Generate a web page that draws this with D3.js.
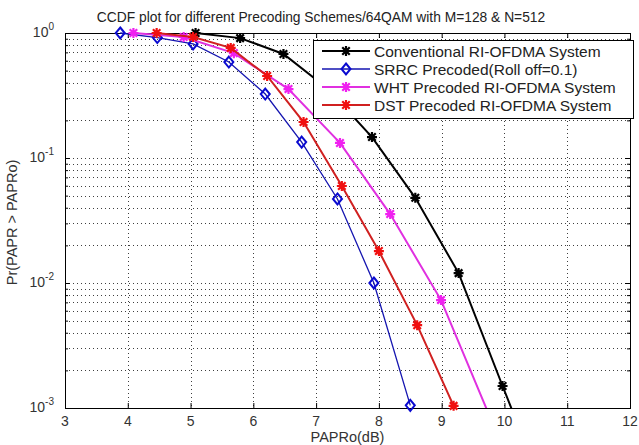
<!DOCTYPE html>
<html><head><meta charset="utf-8">
<script src="https://cdn.jsdelivr.net/npm/d3@7"></script>
<style>
body{margin:0;background:#fff;}
text{font-family:"Liberation Sans",Arial,sans-serif;}
</style></head>
<body><svg id="c" width="639" height="445"></svg>
<script>
// ---- data ----
const titleText = "CCDF plot for different Precoding Schemes/64QAM with M=128 & N=512";
const xLabelText = "PAPRo(dB)";
const yLabelText = "Pr(PAPR > PAPRo)";
const xTicks = [3,4,5,6,7,8,9,10,11,12];
const yTickExp = [0,-1,-2,-3];
const seriesNames = ["Conventional RI-OFDMA System","SRRC Precoded(Roll off=0.1)","WHT Precoded RI-OFDMA System","DST Precoded RI-OFDMA System"];

const convX = [5.08,5.79,6.48,7.18,7.89,8.58,9.27,9.97,10.66];
const convY = [1.0,0.91,0.68,0.36,0.147,0.048,0.012,0.0015,0.0002];
const srrcX = [3.88,4.47,5.04,5.61,6.19,6.77,7.34,7.92,8.50];
const srrcY = [1.0,0.92,0.817,0.586,0.325,0.134,0.047,0.0100,0.00105];
const whtX  = [4.09,4.89,5.69,6.56,7.38,8.18,8.99,9.79];
const whtY  = [1.0,0.93,0.69,0.356,0.132,0.0356,0.0073,0.0008];
const dstX  = [4.46,5.04,5.64,6.22,6.80,7.41,8.00,8.61,9.19];
const dstY  = [1.0,0.93,0.76,0.453,0.194,0.0597,0.018,0.0046,0.00104];

const series = [
  {name:seriesNames[0], xs:convX, ys:convY, color:"#000000", mcolor:"#000000", width:2, marker:"star"},
  {name:seriesNames[1], xs:srrcX, ys:srrcY, color:"#1515b0", mcolor:"#0a0ad0", width:1.3, marker:"diamond"},
  {name:seriesNames[2], xs:whtX,  ys:whtY,  color:"#e030e0", mcolor:"#f020f0", width:2, marker:"star"},
  {name:seriesNames[3], xs:dstX,  ys:dstY,  color:"#d02020", mcolor:"#f01010", width:2, marker:"star"}
];

// ---- layout ----
const L=65, R=630, T=33, B=408;
const svg = d3.select("#c");
const x = d3.scaleLinear().domain([3,12]).range([L,R]);
const y = d3.scaleLog().domain([1e-3,1]).range([B,T]);

// grid
const g = svg.append("g");
const minorY = [];
for (let e=-3;e<0;e++) for (let k=1;k<10;k++) minorY.push(k*Math.pow(10,e));
minorY.push(1);
g.selectAll("line.gy").data(minorY.filter(v=>v>1e-3 && v<1)).enter().append("line")
  .attr("x1",L).attr("x2",R).attr("y1",d=>Math.round(y(d))+0.5).attr("y2",d=>Math.round(y(d))+0.5)
  .attr("stroke","#000").attr("stroke-width",1).attr("stroke-dasharray","1,3").attr("opacity",0.75);
g.selectAll("line.gx").data(xTicks.filter(v=>v>3&&v<12)).enter().append("line")
  .attr("y1",T).attr("y2",B).attr("x1",d=>Math.round(x(d))+0.5).attr("x2",d=>Math.round(x(d))+0.5)
  .attr("stroke","#000").attr("stroke-width",1).attr("stroke-dasharray","1,3").attr("opacity",0.75);

// axes with inward ticks
const axB = d3.axisBottom(x).tickValues(xTicks).tickSize(-5).tickFormat("");
const axT = d3.axisTop(x).tickValues(xTicks).tickSize(-5).tickFormat("");
const axLmin = d3.axisLeft(y).tickValues(minorY).tickSize(-3).tickFormat("");
const axRmin = d3.axisRight(y).tickValues(minorY).tickSize(-3).tickFormat("");
const axLmaj = d3.axisLeft(y).tickValues(yTickExp.map(e=>Math.pow(10,e))).tickSize(-5).tickFormat("");
const axRmaj = d3.axisRight(y).tickValues(yTickExp.map(e=>Math.pow(10,e))).tickSize(-5).tickFormat("");
[[axB,`translate(0,${B})`],[axT,`translate(0,${T})`],[axLmin,`translate(${L},0)`],[axRmin,`translate(${R},0)`],[axLmaj,`translate(${L},0)`],[axRmaj,`translate(${R},0)`]].forEach(([a,t])=>{
  const ag = svg.append("g").attr("transform",t).call(a);
  ag.select(".domain").remove();
  ag.selectAll("line").attr("stroke","#000");
});
svg.append("rect").attr("x",L+0.5).attr("y",T+0.5).attr("width",R-L).attr("height",B-T)
  .attr("fill","none").attr("stroke","#000").attr("stroke-width",1);

// tick labels
svg.append("g").selectAll("text").data(xTicks).enter().append("text")
  .attr("x",d=>x(d)).attr("y",B+18).attr("text-anchor","middle")
  .attr("font-size",14).attr("fill","#333").text(d=>d);
const yl = svg.append("g").selectAll("text").data(yTickExp).enter().append("text")
  .attr("x",L-11).attr("y",d=>y(Math.pow(10,d))+4).attr("text-anchor","end").attr("font-size",14).attr("fill","#333");
yl.append("tspan").text("10");
yl.append("tspan").attr("dy",-7).attr("font-size",10).text(d=>d);

// title and labels
svg.append("text").attr("x",321).attr("y",22).attr("text-anchor","middle").attr("font-size",13.8).attr("fill","#222").text(titleText);
svg.append("text").attr("x",(L+R)/2).attr("y",442).attr("text-anchor","middle").attr("font-size",14.5).attr("fill","#333").text(xLabelText);
svg.append("text").attr("transform",`translate(17,${(T+B)/2+2}) rotate(-90)`).attr("text-anchor","middle").attr("font-size",14.5).attr("fill","#333").text(yLabelText);

// clip
svg.append("clipPath").attr("id","clip").append("rect").attr("x",L).attr("y",T-2).attr("width",R-L).attr("height",B-T+2);

function drawMarker(sel, type, color, cx, cy, s){
  if(type==="diamond"){
    sel.append("path").attr("d",`M${cx},${cy-5.5}L${cx+4.5},${cy}L${cx},${cy+5.5}L${cx-4.5},${cy}Z`)
      .attr("fill","none").attr("stroke",color).attr("stroke-width",2);
  } else {
    const r=s||5;
    const d=`M${cx-r},${cy}L${cx+r},${cy}M${cx},${cy-r}L${cx},${cy+r}M${cx-r*0.75},${cy-r*0.75}L${cx+r*0.75},${cy+r*0.75}M${cx-r*0.75},${cy+r*0.75}L${cx+r*0.75},${cy-r*0.75}`;
    sel.append("path").attr("d",d).attr("stroke",color).attr("stroke-width",2.2).attr("fill","none");
    sel.append("circle").attr("cx",cx).attr("cy",cy).attr("r",2.3).attr("fill",color);
  }
}

const line = d3.line().x(d=>x(d[0])).y(d=>y(d[1]));
series.forEach(s=>{
  const pts = s.xs.map((v,i)=>[v,s.ys[i]]);
  svg.append("path").attr("d",line(pts)).attr("clip-path","url(#clip)")
    .attr("fill","none").attr("stroke",s.color).attr("stroke-width",s.width);
  const mg = svg.append("g");
  pts.filter(p=>p[1]>=1e-3 && p[0]<=12).forEach(p=>drawMarker(mg,s.marker,s.mcolor,x(p[0]),y(p[1])));
});

// legend
const lx=313, ly=40, lw=320, lh=78;
svg.append("rect").attr("x",lx+0.5).attr("y",ly+0.5).attr("width",lw).attr("height",lh).attr("fill","#fff").attr("stroke","#000");
series.forEach((s,i)=>{
  const cy = ly+11+i*18;
  svg.append("line").attr("x1",lx+9).attr("x2",lx+57).attr("y1",cy).attr("y2",cy).attr("stroke",s.color).attr("stroke-width",s.width);
  drawMarker(svg,s.marker,s.mcolor,lx+33,cy);
  svg.append("text").attr("x",lx+61).attr("y",cy+5.5).attr("font-size",15.5).attr("fill","#222").text(s.name);
});
</script></body></html>
